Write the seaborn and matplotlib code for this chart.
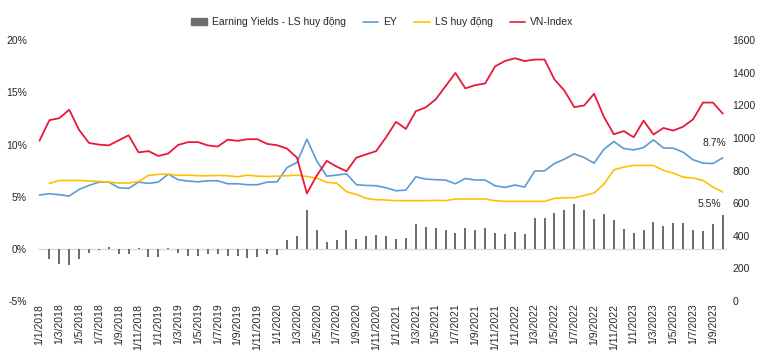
import numpy as np
import pandas as pd
import matplotlib
matplotlib.use('Agg')
import matplotlib.pyplot as plt
from matplotlib.lines import Line2D
from matplotlib.patches import Patch
import seaborn as sns

# monthly data, 1/1/2018 .. 1/10/2023
months = pd.date_range('2018-01-01', periods=70, freq='MS')
month_labels = [f"{d.day}/{d.month}/{d.year}" for d in months]

ey = [5.16, 5.29, 5.19, 5.06, 5.70, 6.08, 6.40, 6.40, 5.86, 5.80,
      6.40, 6.28, 6.40, 7.17, 6.63, 6.50, 6.43, 6.53, 6.53, 6.24,
      6.24, 6.15, 6.15, 6.40, 6.43, 7.80, 8.28, 10.52, 8.44, 6.97,
      7.07, 7.20, 6.15, 6.08, 6.05, 5.86, 5.57, 5.64, 6.91, 6.69,
      6.63, 6.60, 6.24, 6.75, 6.60, 6.60, 6.05, 5.89, 6.12, 5.93,
      7.46, 7.48, 8.18, 8.60, 9.11, 8.76, 8.22, 9.56, 10.29, 9.62,
      9.49, 9.71, 10.45, 9.68, 9.65, 9.27, 8.54, 8.22, 8.18, 8.73]

ls_huy_dong = [np.nan, 6.28, 6.56, 6.56, 6.56, 6.50, 6.47, 6.40, 6.31, 6.31,
               6.47, 7.04, 7.14, 7.17, 7.04, 7.07, 7.01, 7.01, 7.04, 7.01,
               6.91, 7.07, 6.97, 6.94, 6.97, 7.01, 7.07, 6.94, 6.78, 6.37,
               6.31, 5.48, 5.22, 4.84, 4.71, 4.68, 4.62, 4.62, 4.62, 4.62,
               4.65, 4.62, 4.78, 4.78, 4.78, 4.78, 4.62, 4.55, 4.55, 4.55,
               4.55, 4.55, 4.84, 4.90, 4.90, 5.12, 5.35, 6.21, 7.58, 7.84,
               8.00, 8.00, 8.00, 7.52, 7.27, 6.88, 6.79, 6.56, 5.93, 5.45]

gap = [np.nan, -1.02, -1.44, -1.57, -0.93, -0.38, -0.13, 0.15, -0.45, -0.54,
       0.06, -0.77, -0.77, 0.10, -0.42, -0.64, -0.64, -0.51, -0.51, -0.70,
       -0.64, -0.90, -0.80, -0.54, -0.57, 0.89, 1.21, 3.76, 1.78, 0.63,
       0.86, 1.82, 0.96, 1.27, 1.37, 1.21, 0.99, 1.08, 2.36, 2.10,
       1.97, 1.82, 1.49, 1.97, 1.82, 2.00, 1.53, 1.40, 1.59, 1.40,
       2.93, 2.96, 3.41, 3.73, 4.30, 3.73, 2.87, 3.37, 2.77, 1.87,
       1.56, 1.82, 2.55, 2.23, 2.49, 2.49, 1.85, 1.75, 2.39, 3.28]

vn_index = [984, 1110, 1122, 1174, 1050, 970, 960, 955, 986, 1017,
            912, 920, 890, 905, 958, 975, 975, 955, 948, 990,
            983, 993, 993, 964, 956, 935, 880, 660, 770, 860,
            825, 796, 880, 900, 920, 1005, 1100, 1056, 1165, 1188,
            1237, 1318, 1400, 1305, 1325, 1335, 1440, 1473, 1490, 1473,
            1482, 1482, 1360, 1292, 1190, 1200, 1272, 1130, 1023, 1043,
            1005, 1107, 1022, 1062, 1046, 1070, 1115, 1218, 1218, 1150]

df = pd.DataFrame({'pos': np.arange(len(months)), 'EY': ey,
                   'LS': ls_huy_dong, 'gap': gap, 'VN': vn_index})

c_bar = '#6e6e6e'
c_ey = '#5b9bd5'
c_ls = '#ffc000'
c_vn = '#e8193c'
txt = '#262626'

sns.set_theme(style='white')
plt.rcParams['font.family'] = ['Liberation Sans Narrow', 'Liberation Sans', 'DejaVu Sans']

fig = plt.figure(figsize=(7.65, 3.57), dpi=100)
ax = fig.add_axes([0.0497, 0.157, 0.9003, 0.73])

ax.axhline(0, color='#d9d9d9', lw=1, zorder=0)
sns.barplot(data=df.dropna(subset=['gap']), x='pos', y='gap', native_scale=True,
            color=c_bar, width=0.2, errorbar=None, saturation=1, linewidth=0, ax=ax)
sns.lineplot(data=df, x='pos', y='EY', color=c_ey, lw=1.2, ax=ax)
sns.lineplot(data=df, x='pos', y='LS', color=c_ls, lw=1.2, ax=ax)

ax.set_ylim(-5, 20)
ax.set_yticks([-5, 0, 5, 10, 15, 20])
ax.set_yticklabels([f"{v}%" for v in [-5, 0, 5, 10, 15, 20]])
ax.set_xlim(-0.15, 69.4)
ax.set_xticks(df['pos'][::2])
ax.set_xticklabels(month_labels[::2], rotation=90)
ax.set_xlabel('')
ax.set_ylabel('')

ax2 = ax.twinx()
sns.lineplot(data=df, x='pos', y='VN', color=c_vn, lw=1.3, ax=ax2)
ax2.set_ylim(0, 1600)
ax2.set_yticks(range(0, 1601, 200))
ax2.set_ylabel('')
ax2.set_xlim(-0.15, 69.4)

for a in (ax, ax2):
    for s in a.spines.values():
        s.set_visible(False)
    a.tick_params(length=0, labelsize=7.5, colors=txt)
ax.tick_params(axis='y', pad=8)
ax2.tick_params(axis='y', pad=4)
ax.tick_params(axis='x', pad=2)

ax.annotate(f"{ey[-1]:.1f}%", (df['pos'].iloc[-1], ey[-1]), xytext=(-6, 7),
            textcoords='offset points', ha='center', va='bottom', fontsize=7.5, color=txt)
ax.annotate(f"{ls_huy_dong[-1]:.1f}%", (df['pos'].iloc[-1], ls_huy_dong[-1]), xytext=(-10, -5),
            textcoords='offset points', ha='center', va='top', fontsize=7.5, color=txt)

handles = [Patch(color=c_bar), Line2D([], [], color=c_ey, lw=1.2),
           Line2D([], [], color=c_ls, lw=1.2), Line2D([], [], color=c_vn, lw=1.2)]
labels = ['Earning Yields - LS huy động', 'EY', 'LS huy động', 'VN-Index']
fig.legend(handles, labels, loc='center', bbox_to_anchor=(0.5, 0.938), ncol=4,
           frameon=False, fontsize=7.5, handlelength=1.5, handleheight=0.6,
           handletextpad=0.5, columnspacing=1.6, labelcolor=txt)

fig.savefig('out.png', dpi=100)
